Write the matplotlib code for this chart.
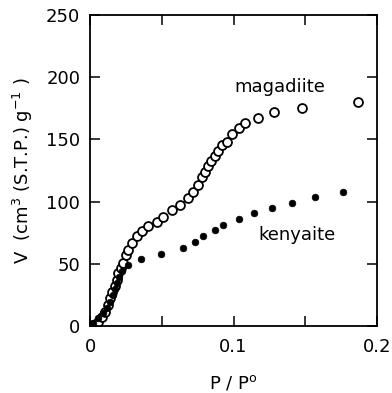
import matplotlib
matplotlib.use("Agg")
import matplotlib.pyplot as plt
from matplotlib.ticker import MultipleLocator, FuncFormatter

plt.rcParams['font.family'] = ['DejaVu Sans']
plt.rcParams['mathtext.fontset'] = 'dejavusans'

mag_p = [0.002, 0.0035, 0.0056, 0.0084, 0.0105, 0.0126, 0.014, 0.0154, 0.0175, 0.0189,
         0.0196, 0.0217, 0.0231, 0.0252, 0.0266, 0.0294, 0.0329, 0.0364, 0.0406, 0.0469,
         0.051, 0.057, 0.063, 0.068, 0.072, 0.0755, 0.078, 0.080, 0.0825, 0.0846,
         0.0874, 0.0895, 0.0923, 0.0958, 0.0993, 0.1035, 0.1077, 0.1168, 0.128, 0.148, 0.187]
mag_v = [0.5, 1, 3, 7, 11, 17, 22.5, 27, 32, 37,
         43, 47, 51, 57, 61, 67, 72, 76, 80, 84,
         88, 93, 97, 103, 108, 113, 120, 124, 129, 133,
         137, 141, 145.5, 148, 154, 159, 163, 167, 172, 175, 180]

ken_p = [0.0, 0.002, 0.0056, 0.009, 0.012, 0.014, 0.016, 0.0175, 0.019, 0.020,
         0.0224, 0.0266, 0.0357, 0.0497, 0.065, 0.0734, 0.079, 0.0874, 0.093, 0.1035,
         0.114, 0.127, 0.1406, 0.1566, 0.176]
ken_v = [0, 2.5, 6.5, 10.5, 14.5, 19, 25, 30, 34.5, 39,
         44, 49, 54, 58, 63, 67.5, 72, 77, 81, 86,
         91, 95, 99, 104, 108]

fig = plt.figure(figsize=(3.92, 3.93), dpi=100)
ax = fig.add_axes([90/392, 67/393, 287/392, 311/393])

ax.plot(mag_p, mag_v, 'o', ms=6.4, mfc='white', mec='black', mew=1.3, zorder=2)
ax.plot(ken_p, ken_v, 'o', ms=4.8, mfc='black', mec='black', mew=0.5, zorder=3)

ax.set_xlim(0, 0.2)
ax.set_ylim(0, 250)
ax.xaxis.set_major_locator(MultipleLocator(0.05))
ax.yaxis.set_major_locator(MultipleLocator(50))

def xfmt(v, pos):
    r = round(v / 0.05)
    if r == 0:
        return '0'
    if r % 2 == 0:
        return f'{v:.1f}'
    return ''
ax.xaxis.set_major_formatter(FuncFormatter(xfmt))

ax.tick_params(direction='in', length=7, width=1.1, top=True, right=True,
               labelsize=13, pad=9)
ax.tick_params(axis='y', pad=7)
for s in ax.spines.values():
    s.set_linewidth(1.3)

ax.set_xlabel('P / P$^{\\mathrm{o}}$', fontsize=13, labelpad=12)
ax.set_ylabel('V  (cm$^3$ (S.T.P.) g$^{-1}$ )', fontsize=13, labelpad=8)

ax.text(0.132, 192, 'magadiite', fontsize=13, ha='center', va='center')
ax.text(0.144, 73, 'kenyaite', fontsize=13, ha='center', va='center')

fig.savefig('out.png', dpi=100)
